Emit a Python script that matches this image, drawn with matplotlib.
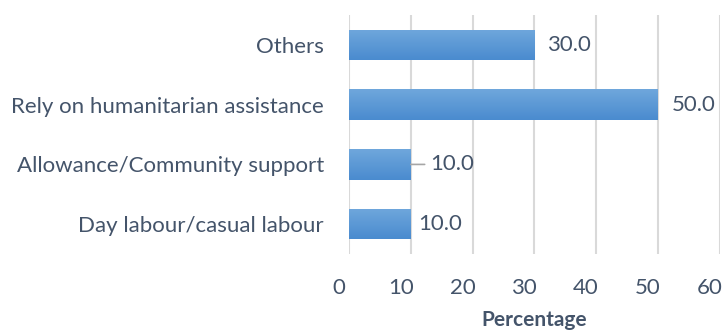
import numpy as np
import matplotlib.pyplot as plt
import matplotlib.transforms as mtransforms
from matplotlib.colors import LinearSegmentedColormap

categories = ["Day labour/casual labour", "Allowance/Community support",
              "Rely on humanitarian assistance", "Others"]
values = [10.0, 10.0, 50.0, 30.0]
xticks = [0, 10, 20, 30, 40, 50, 60]

# label offsets in points from bar end (Excel moved some labels around)
label_offsets = [5, 14, 10, 9]
leader = [False, True, False, False]

plt.rcParams["font.family"] = ["Lato", "DejaVu Sans"]
text_color = "#44546a"
fs = 16

fig = plt.figure(figsize=(7.22, 3.33), dpi=100)
ax = fig.add_axes([0.4834, 0.237, 0.5134, 0.718])

y = np.arange(len(categories))
bars = ax.barh(y, values, height=0.51, color="#5b9bd5", zorder=2)

grad = LinearSegmentedColormap.from_list("g", ["#4a8bcf", "#6fa7dc"])
gimg = np.linspace(0, 1, 64).reshape(-1, 1)
for b in bars:
    x0, y0 = b.get_x(), b.get_y()
    w, h = b.get_width(), b.get_height()
    im = ax.imshow(gimg, cmap=grad, aspect="auto", origin="lower",
                   extent=[x0, x0 + w, y0, y0 + h], zorder=3)
    im.set_clip_path(b)

for i, (b, v) in enumerate(zip(bars, values)):
    yc = b.get_y() + b.get_height() / 2
    kw = dict(xy=(v, yc), xytext=(label_offsets[i], 0),
              textcoords="offset points", va="center", ha="left",
              fontsize=fs, color=text_color)
    if leader[i]:
        kw["arrowprops"] = dict(arrowstyle="-", color="#a6a6a6", lw=1.2,
                                shrinkA=2, shrinkB=0)
    ax.annotate(f"{v:.1f}", **kw)

ax.set_xlim(0, 60)
ax.set_ylim(-0.5, len(categories) - 0.5)
ax.set_xticks(xticks)
ax.set_yticks(y)
ax.set_yticklabels(categories)
ax.tick_params(axis="both", length=0, labelsize=fs, labelcolor=text_color)
ax.tick_params(axis="y", pad=18)
ax.tick_params(axis="x", pad=17)
# x tick labels sit a little left of their gridlines in the original
shift = mtransforms.ScaledTranslation(-10 / 100, 0, fig.dpi_scale_trans)
for lab in ax.get_xticklabels():
    lab.set_transform(lab.get_transform() + shift)
ax.xaxis.grid(True, color="#d9d9d9", linewidth=1.5, zorder=0)
ax.set_axisbelow(True)
for s in ax.spines.values():
    s.set_visible(False)
ax.set_xlabel("Percentage", fontsize=15, fontweight="bold", color=text_color,
              labelpad=9)

fig.savefig("out.png", dpi=100)
